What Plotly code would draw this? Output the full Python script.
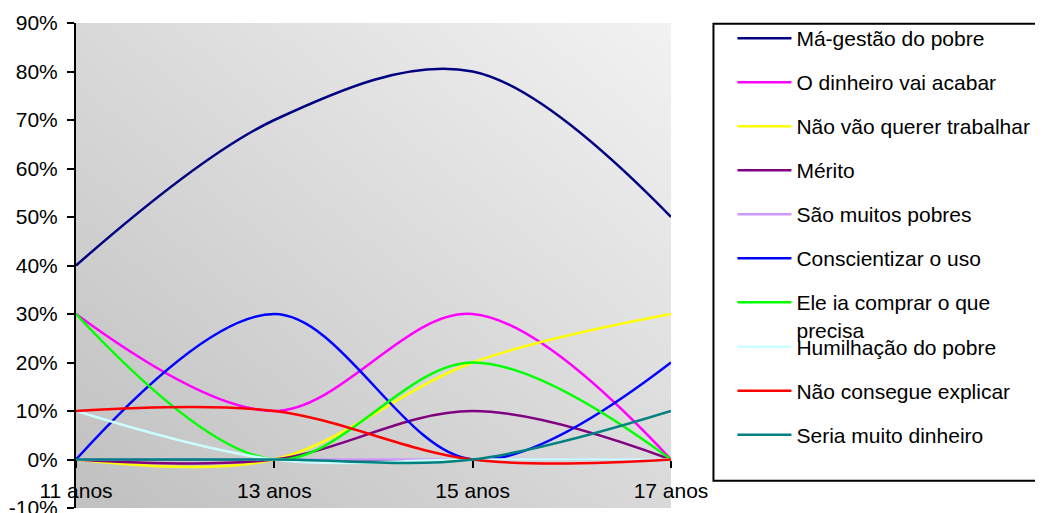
import base64
import plotly.graph_objects as go

categories = ["11 anos", "13 anos", "15 anos", "17 anos"]

series_names = [
    "Má-gestão do pobre",
    "O dinheiro vai acabar",
    "Não vão querer trabalhar",
    "Mérito",
    "São muitos pobres",
    "Conscientizar o uso",
    "Ele ia comprar o que<br>precisa",
    "Humilhação do pobre",
    "Não consegue explicar",
    "Seria muito dinheiro",
]
ma_gestao = [40, 70, 80, 50]
dinheiro_acabar = [30, 10, 30, 0]
nao_trabalhar = [0, 0, 20, 30]
merito = [0, 0, 10, 0]
muitos_pobres = [0, 0, 0, 0]
conscientizar = [0, 30, 0, 20]
comprar_precisa = [30, 0, 20, 0]
humilhacao = [10, 0, 0, 0]
nao_explicar = [10, 10, 0, 0]
muito_dinheiro = [0, 0, 0, 10]
series_values = [ma_gestao, dinheiro_acabar, nao_trabalhar, merito, muitos_pobres,
                 conscientizar, comprar_precisa, humilhacao, nao_explicar, muito_dinheiro]
series_colors = ["#000080", "#FF00FF", "#FFFF00", "#800080", "#CC99FF",
                 "#0000FF", "#00FF00", "#CCFFFF", "#FF0000", "#008080"]

y_ticks = list(range(-10, 91, 10))
y_ticktext = ["%d%%" % v for v in y_ticks]

# page body has an 8px default margin; work in figure coordinates = page - 8
OFF = 8
W, H = 1043 - 2 * OFF, 513 - OFF
PL, PR, PT, PB = 76 - OFF, 671.5 - OFF, 22.7 - OFF, 508.3 - OFF
L, R, T, B = PL, W - PR, PT, H - PB
PW = PR - PL
PH = PB - PT


def px_x(p):
    return (p - OFF - PL) / PW


def px_y(p):
    return (PB - (p - OFF)) / PH


FONT = "Liberation Sans, Arial, sans-serif"
FS = 21
ITEMW = 54

fig = go.Figure()
for i, (name, vals, col) in enumerate(zip(series_names, series_values, series_colors)):
    fig.add_trace(go.Scatter(
        x=categories, y=vals, name=name, mode="lines",
        line=dict(color=col, width=2.5, shape="spline", smoothing=1),
        legendgroup="g%d" % i,
        legend="legend" if i < 7 else "legend2",
        hoverinfo="skip",
    ))

svg = ('<svg xmlns="http://www.w3.org/2000/svg" width="100" height="100" viewBox="0 0 100 100" '
       'preserveAspectRatio="none"><defs><linearGradient id="g" x1="0" y1="1" x2="1" y2="0">'
       '<stop offset="0" stop-color="#C0C0C0"/><stop offset="1" stop-color="#F2F2F2"/>'
       '</linearGradient></defs><rect width="100" height="100" fill="url(#g)"/></svg>')
src = "data:image/svg+xml;base64," + base64.b64encode(svg.encode()).decode()

legend_x = px_x(797 - ITEMW - 10)

fig.update_layout(
    template="none",
    width=W, height=H,
    margin=dict(l=L, r=R, t=T, b=B, pad=0, autoexpand=False),
    paper_bgcolor="white",
    plot_bgcolor="rgba(0,0,0,0)",
    font=dict(family=FONT, size=FS, color="black"),
    images=[dict(source=src, xref="paper", yref="paper", x=0, y=1, sizex=1, sizey=1,
                 xanchor="left", yanchor="top", sizing="stretch", layer="below")],
    xaxis=dict(type="category", range=[0, len(categories) - 1], anchor="free", position=0.1,
               showline=True, linecolor="black", linewidth=2, showgrid=False, zeroline=False,
               ticks="outside", ticklen=7, tickwidth=2, tickcolor="black",
               ticklabelstandoff=5, layer="below traces", automargin=False,
               ticklabeloverflow="allow",
               tickfont=dict(family=FONT, size=FS, color="black")),
    xaxis2=dict(type="linear", range=[0, len(categories) - 1], overlaying="x", anchor="free",
                position=0.1, showline=False, showgrid=False, zeroline=False,
                tickvals=list(range(len(categories))), ticks="inside", ticklen=7, tickwidth=2,
                tickcolor="black", showticklabels=False, automargin=False),
    yaxis=dict(range=[-10, 90], tickvals=y_ticks, ticktext=y_ticktext, showline=True,
               linecolor="black", linewidth=2, showgrid=False, zeroline=False,
               ticks="outside", ticklen=7, tickwidth=2, tickcolor="black",
               ticklabelstandoff=5, layer="below traces", automargin=False,
               ticklabeloverflow="allow",
               tickfont=dict(family=FONT, size=FS, color="black")),
    yaxis2=dict(range=[-10, 90], overlaying="y", anchor="x", showline=False, showgrid=False,
                zeroline=False, tickvals=y_ticks, ticks="inside", ticklen=7, tickwidth=2,
                tickcolor="black", showticklabels=False, automargin=False),
    legend=dict(x=legend_x, y=px_y(17.8), xanchor="left", yanchor="top", maxheight=1,
                bgcolor="rgba(0,0,0,0)", borderwidth=0, tracegroupgap=13.7, valign="top",
                itemwidth=ITEMW,
                font=dict(family=FONT, size=FS, color="black")),
    legend2=dict(x=legend_x, y=px_y(326.8), xanchor="left", yanchor="top", maxheight=1,
                 bgcolor="rgba(0,0,0,0)", borderwidth=0, tracegroupgap=13.7, valign="top",
                 itemwidth=ITEMW,
                 font=dict(family=FONT, size=FS, color="black")),
    shapes=[dict(type="rect", xref="paper", yref="paper",
                 x0=px_x(714), x1=px_x(1050), y0=px_y(481), y1=px_y(23.5),
                 line=dict(color="black", width=2), fillcolor="rgba(0,0,0,0)")],
)

fig.write_html("out.html")
